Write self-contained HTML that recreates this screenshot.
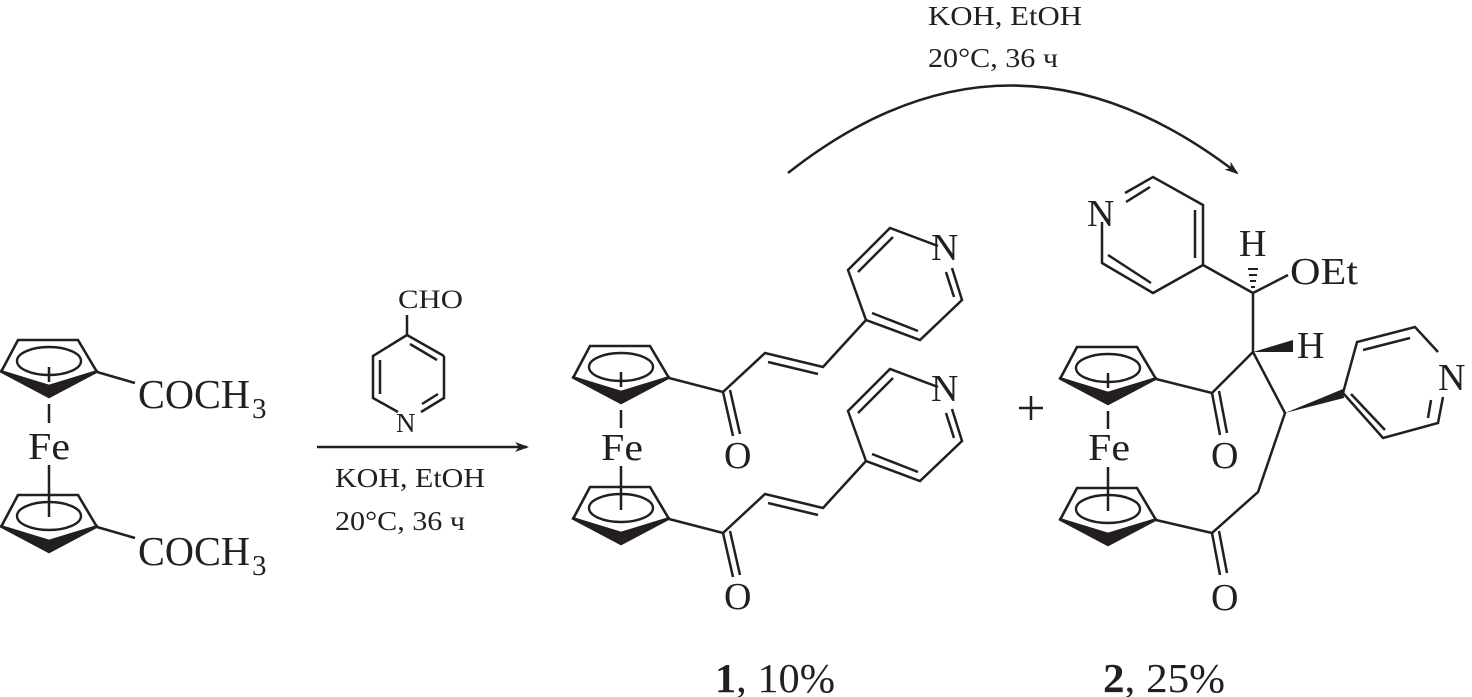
<!DOCTYPE html>
<html><head><meta charset="utf-8"><style>
html,body{margin:0;padding:0;background:#fff}
svg{display:block}
text{font-family:"Liberation Serif","DejaVu Serif",serif;fill:#231f20}
</style></head><body>
<svg width="1472" height="697" viewBox="0 0 1472 697" xmlns="http://www.w3.org/2000/svg">
<defs>
<g id="cp">
<path d="M-48,32 L-31,0 L29,0 L48,32" fill="none" stroke="#231f20" stroke-width="2.6" stroke-linejoin="miter"/>
<polygon points="-49,31 0,57 49,31 0,46" fill="#231f20"/>
<ellipse cx="0" cy="21" rx="32" ry="14" fill="none" stroke="#231f20" stroke-width="2.4"/>
</g>
<marker id="ah" markerWidth="14" markerHeight="10" refX="12" refY="5" orient="auto" markerUnits="userSpaceOnUse">
<path d="M0,0 L14,5 L0,10 L4,5 Z" fill="#231f20"/>
</marker>
</defs>
<g stroke="#231f20" stroke-width="2.5" fill="none" stroke-linecap="butt">

<use href="#cp" x="49" y="340"/>
<line x1="49" y1="367" x2="49" y2="382"/>
<line x1="49" y1="404" x2="49" y2="423"/>
<use href="#cp" x="49" y="495"/>
<line x1="49" y1="465" x2="49" y2="517"/>
<line x1="97" y1="372" x2="135" y2="383"/>
<line x1="97" y1="527" x2="135" y2="538"/>

<line x1="407" y1="315" x2="407" y2="335"/>
<polyline points="444,356 407,335 373,356 373,398 398,412"/>
<polyline points="421,412 444,398 444,356"/>
<line x1="410" y1="344" x2="437" y2="360"/>
<line x1="380" y1="360" x2="380" y2="394"/>
<line x1="422" y1="404" x2="438" y2="394"/>
<line x1="317" y1="447" x2="527" y2="447" marker-end="url(#ah)"/>

<use href="#cp" x="621" y="346"/>
<line x1="621" y1="372" x2="621" y2="387"/>
<line x1="621" y1="410" x2="621" y2="428"/>
<use href="#cp" x="621" y="487"/>
<line x1="621" y1="466" x2="621" y2="510"/>
<g id="chain1">
<polyline points="669,378 723,392 765,353 823,367 866,320"/>
<line x1="723" y1="392" x2="733" y2="436"/>
<line x1="730" y1="390" x2="740" y2="434"/>
<line x1="768" y1="362" x2="818" y2="374"/>
<polyline points="938,246 890,228 848,270 866,320 920,340 962,300 952,268"/>
<line x1="893" y1="237" x2="858" y2="272"/>
<line x1="872" y1="313" x2="918" y2="331"/>
<line x1="954" y1="297" x2="946" y2="272"/>
</g>
<use href="#chain1" x="0" y="141"/>

<line x1="1019" y1="408" x2="1043" y2="408"/>
<line x1="1031" y1="396" x2="1031" y2="420"/>

<use href="#cp" x="1108" y="347"/>
<line x1="1108" y1="373" x2="1108" y2="388"/>
<line x1="1108" y1="411" x2="1108" y2="429"/>
<use href="#cp" x="1108" y="488"/>
<line x1="1108" y1="467" x2="1108" y2="511"/>
<polyline points="1156,379 1212,393 1253,352 1253,293 1203,265"/>
<line x1="1212" y1="393" x2="1220" y2="435"/>
<line x1="1219" y1="391" x2="1227" y2="433"/>
<line x1="1253" y1="293" x2="1288" y2="275"/>
<polyline points="1253,352 1285,413 1258,492 1212,533 1156,520"/>
<line x1="1212" y1="533" x2="1220" y2="575"/>
<line x1="1219" y1="531" x2="1227" y2="573"/>
<polyline points="1203,265 1203,205 1153,177 1125,193"/>
<polyline points="1102,222 1102,263 1153,293 1203,265"/>
<line x1="1195" y1="210" x2="1195" y2="258"/>
<line x1="1126" y1="202" x2="1150" y2="187"/>
<line x1="1108" y1="255" x2="1151" y2="283"/>
<polyline points="1343,393 1357,342 1415,327 1438,352"/>
<polyline points="1443,397 1438,423 1383,438 1343,393"/>
<line x1="1363" y1="350" x2="1410" y2="338"/>
<line x1="1431" y1="400" x2="1428" y2="418"/>
<line x1="1351" y1="394" x2="1385" y2="430"/>
<path d="M788,173 Q1010,-2 1237,173" marker-end="url(#ah)"/>
</g>
<polygon points="1253,352 1293,340 1293,352" fill="#231f20"/>
<polygon points="1285,413 1343,389 1344,398" fill="#231f20"/>
<g stroke="#231f20" stroke-width="2">
<line x1="1251" y1="287" x2="1255" y2="287"/>
<line x1="1250" y1="281" x2="1256" y2="281"/>
<line x1="1249" y1="275" x2="1257" y2="275"/>
<line x1="1248" y1="269" x2="1258" y2="269"/>
</g>

<text x="138" y="408" font-size="41" textLength="112" lengthAdjust="spacingAndGlyphs">COCH</text>
<text x="252" y="418" font-size="29">3</text>
<text x="138" y="565" font-size="41" textLength="112" lengthAdjust="spacingAndGlyphs">COCH</text>
<text x="252" y="575" font-size="29">3</text>
<text x="28" y="459" font-size="38" textLength="42" lengthAdjust="spacingAndGlyphs">Fe</text>
<text x="398" y="308" font-size="26" textLength="65" lengthAdjust="spacingAndGlyphs">CHO</text>
<text x="396" y="432" font-size="27">N</text>
<text x="335" y="487" font-size="27" textLength="150" lengthAdjust="spacingAndGlyphs">KOH, EtOH</text>
<text x="335" y="530" font-size="27" textLength="130" lengthAdjust="spacingAndGlyphs">20°C, 36 ч</text>

<text x="601" y="460" font-size="38" textLength="42" lengthAdjust="spacingAndGlyphs">Fe</text>
<text x="724" y="468" font-size="38">O</text>
<text x="724" y="609" font-size="38">O</text>
<text x="931" y="260" font-size="38">N</text>
<text x="931" y="401" font-size="38">N</text>

<text x="1088" y="460" font-size="38" textLength="42" lengthAdjust="spacingAndGlyphs">Fe</text>
<text x="1211" y="468" font-size="38">O</text>
<text x="1211" y="610" font-size="38">O</text>
<text x="1087" y="226" font-size="38">N</text>
<text x="1239" y="256" font-size="38">H</text>
<text x="1290" y="284" font-size="38" textLength="68" lengthAdjust="spacingAndGlyphs">OEt</text>
<text x="1297" y="358" font-size="38">H</text>
<text x="1438" y="390" font-size="38">N</text>

<text x="928" y="25" font-size="27" textLength="154" lengthAdjust="spacingAndGlyphs">KOH, EtOH</text>
<text x="928" y="67" font-size="27" textLength="130" lengthAdjust="spacingAndGlyphs">20°C, 36 ч</text>

<text x="715" y="692" font-size="41" textLength="120" lengthAdjust="spacingAndGlyphs"><tspan font-weight="bold">1</tspan>, 10%</text>
<text x="1103" y="692" font-size="41" textLength="122" lengthAdjust="spacingAndGlyphs"><tspan font-weight="bold">2</tspan>, 25%</text>
</svg>
</body></html>
